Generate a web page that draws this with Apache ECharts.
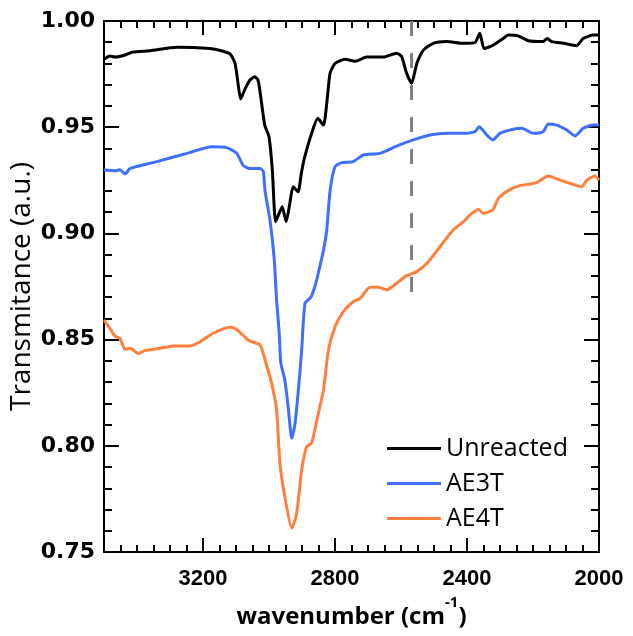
<!DOCTYPE html>
<html>
<head>
<meta charset="utf-8">
<script src="https://cdn.jsdelivr.net/npm/echarts@6/dist/echarts.min.js"></script>
<style>
  html, body { margin: 0; padding: 0; background: #fff; }
  #chart { width: 633px; height: 636px; }
</style>
</head>
<body>
<div id="chart"></div>
<script>
// IR spectra - transmittance vs wavenumber
const chart = echarts.init(document.getElementById('chart'));

const seriesNames = ['Unreacted', 'AE3T', 'AE4T'];
const yTicks = [0.75, 0.80, 0.85, 0.90, 0.95, 1.00];
const xTicks = [3200, 2800, 2400, 2000];

// Unreacted (black)
const unreactedWn = [3500,3482,3467,3436,3412,3361,3279,3179,3145,3118,3103,3094,3086,3074,3059,3043,3033,3023,3013,3000,
  2990,2980,2968,2960,2948,2937,2927,2912,2902,2894,2871,2852,2835,2825,2815,2800,2770,2739,2704,2654,
  2613,2598,2583,2568,2552,2532,2502,2462,2411,2376,2361,2348,2320,2290,2275,2245,2214,2169,2157,2143,
  2108,2068,2048,2017,2000];
const unreactedT = [0.982,0.9835,0.983,0.984,0.9854,0.986,0.9876,0.987,0.986,0.9845,0.980,0.9708,0.9633,0.9675,0.972,0.9738,0.972,0.962,0.951,0.9455,
  0.930,0.9055,0.910,0.9126,0.9055,0.914,0.922,0.9196,0.9283,0.9346,0.947,0.9542,0.951,0.9612,0.9754,0.980,0.982,0.981,0.983,0.983,
  0.9848,0.9832,0.9754,0.9707,0.980,0.9863,0.9895,0.9903,0.9895,0.9898,0.9942,0.987,0.9887,0.9918,0.9934,0.993,0.9907,0.9903,0.9918,0.9903,
  0.9895,0.9884,0.9918,0.9934,0.9934];

// AE3T (blue)
const ae3tWn = [3500,3467,3452,3436,3421,3340,3249,3174,3128,3098,3078,3058,3027,3017,3012,2997,2984,2977,2969,2964,
  2952,2942,2931,2921,2911,2901,2891,2873,2861,2851,2835,2825,2815,2800,2780,2745,2714,2664,2613,2563,
  2512,2462,2411,2376,2363,2340,2322,2300,2260,2234,2199,2169,2154,2128,2098,2073,2048,2017,2000];
const ae3tT = [0.9298,0.9295,0.930,0.928,0.9306,0.9338,0.9377,0.9408,0.9404,0.9377,0.932,0.9306,0.9306,0.929,0.920,0.9063,0.8875,0.8686,0.853,0.8388,
  0.831,0.8184,0.8035,0.8106,0.8263,0.845,0.867,0.870,0.875,0.881,0.892,0.9016,0.920,0.9314,0.9333,0.9338,0.9369,0.9377,0.9411,0.944,
  0.9463,0.9471,0.9471,0.9479,0.9502,0.9463,0.944,0.9471,0.949,0.9495,0.9471,0.9479,0.9515,0.951,0.9487,0.9459,0.9495,0.951,0.951];

// AE4T (orange)
const ae4tWn = [3500,3482,3467,3452,3436,3421,3396,3376,3330,3290,3239,3209,3169,3118,3098,3063,3052,3027,3012,2992,
  2977,2967,2952,2931,2916,2901,2886,2871,2855,2835,2820,2800,2775,2745,2724,2694,2669,2643,2613,2583,
  2552,2517,2482,2442,2411,2391,2366,2351,2322,2305,2270,2239,2209,2189,2154,2118,2088,2052,2037,2012,2000];
const ae4tT = [0.8592,0.8553,0.8517,0.8506,0.8454,0.8459,0.8435,0.8448,0.8459,0.847,0.847,0.849,0.853,0.8558,0.8548,0.8498,0.849,0.8475,0.8404,0.8294,
  0.8169,0.7918,0.776,0.7612,0.7682,0.7886,0.7996,0.8012,0.8121,0.8263,0.845,0.856,0.8631,0.8678,0.8694,0.8746,0.8746,0.8734,0.8765,0.8801,
  0.882,0.8867,0.8937,0.9016,0.9055,0.9087,0.9113,0.9095,0.911,0.9165,0.9206,0.9225,0.9233,0.9239,0.927,0.9251,0.9236,0.922,0.9251,0.927,0.9251];

// vertical dashed reference line
const refWn = [2568, 2568];
const refT = [1.00, 0.869];

const colors = ['#000000', '#3f6fff', '#ff7f3f'];
const pair = (xs, ys) => xs.map((x, i) => [x, ys[i]]);

const axisLine = { show: true, lineStyle: { color: '#000', width: 2 } };

function xAxisDef(pos, major, showLabel) {
    return {
        type: 'value',
        position: pos,
        inverse: true,
        min: 2000,
        max: 3500,
        interval: major ? 400 : 50,
        axisLine: major ? axisLine : { show: false },
        axisTick: { show: true, inside: true, length: major ? 14 : 7, lineStyle: { color: '#000', width: 2 } },
        axisLabel: showLabel ? {
            margin: 16,
            fontFamily: 'Liberation Sans', fontWeight: 'bold', fontSize: 22, color: '#000',
            formatter: v => xTicks.indexOf(v) >= 0 ? String(v) : ''
        } : { show: false },
        splitLine: { show: false }
    };
}

function yAxisDef(pos, showLabel) {
    return {
        type: 'value',
        position: pos,
        min: 0.75,
        max: 1.0,
        interval: 0.05,
        axisLine: axisLine,
        axisTick: { show: true, inside: true, length: 15, lineStyle: { color: '#000', width: 2 } },
        minorTick: { show: true, splitNumber: 5, length: 8, lineStyle: { color: '#000', width: 2 } },
        axisLabel: showLabel ? {
            margin: 9,
            fontFamily: 'DejaVu Sans', fontWeight: 'bold', fontSize: 22, color: '#000',
            formatter: v => v.toFixed(2)
        } : { show: false },
        splitLine: { show: false }
    };
}

const xMain = xAxisDef('bottom', true, true);
xMain.name = '{a|wavenumber (cm}{s|-1}{a|)}';
xMain.nameLocation = 'middle';
xMain.nameGap = 40;
xMain.nameTextStyle = {
    rich: {
        a: { fontFamily: 'Open Sans', fontWeight: 'bold', fontSize: 24, color: '#000', lineHeight: 34, verticalAlign: 'bottom' },
        s: { fontFamily: 'Open Sans', fontWeight: 'bold', fontSize: 15, color: '#000', lineHeight: 34, verticalAlign: 'top' }
    }
};

const yMain = yAxisDef('left', true);
yMain.name = 'Transmitance (a.u.)';
yMain.nameLocation = 'middle';
yMain.nameGap = 68;
yMain.nameMoveOverlap = false;
yMain.nameTextStyle = { fontFamily: 'Open Sans', fontWeight: 500, fontSize: 28, color: '#000' };

const lineSeries = seriesNames.map((name, i) => ({
    name: name,
    type: 'line',
    data: [pair(unreactedWn, unreactedT), pair(ae3tWn, ae3tT), pair(ae4tWn, ae4tT)][i],
    showSymbol: false,
    smooth: 0.2,
    color: colors[i],
    lineStyle: { width: 3, color: colors[i] },
    z: 5 - i
}));

chart.setOption({
    animation: false,
    grid: { left: 104, right: 34, top: 21, bottom: 84, containLabel: false, outerBoundsMode: 'none' },
    legend: {
        data: seriesNames,
        orient: 'vertical',
        left: 382,
        top: 431,
        icon: 'rect',
        itemWidth: 54,
        itemHeight: 3,
        itemGap: 10,
        textStyle: { fontFamily: 'Open Sans', fontSize: 25, color: '#000' }
    },
    xAxis: [xMain, xAxisDef('bottom', false, false), xAxisDef('top', true, false), xAxisDef('top', false, false)],
    yAxis: [yMain, yAxisDef('right', false)],
    series: lineSeries.concat([{
        name: 'ref',
        type: 'line',
        data: pair(refWn, refT),
        showSymbol: false,
        lineStyle: { width: 3, color: '#808080', type: [15, 17] },
        z: 1
    }])
});
</script>
</body>
</html>
